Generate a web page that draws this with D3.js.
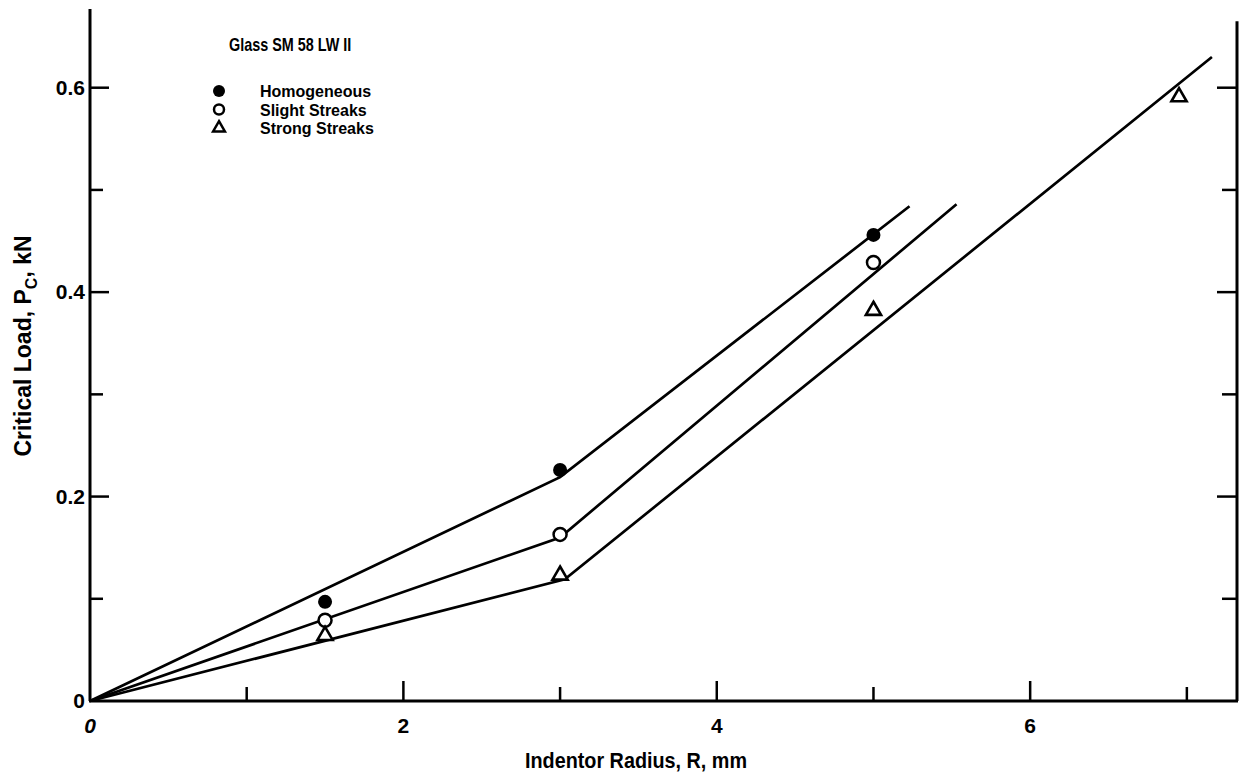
<!DOCTYPE html>
<html>
<head>
<meta charset="utf-8">
<script src="https://cdn.jsdelivr.net/npm/d3@7/dist/d3.min.js"></script>
<style>
  body { margin: 0; background: #fff; }
  text { font-family: "Liberation Sans", Arial, sans-serif; font-weight: bold; fill: #000; }
</style>
</head>
<body>
<div id="chart"></div>
<script>
// measured points, x = indentor radius (mm), y = critical load (kN)
var homX = [1.5, 3.0, 5.0];
var homY = [0.097, 0.226, 0.456];
var slightX = [1.5, 3.0, 5.0];
var slightY = [0.079, 0.163, 0.429];
var strongX = [1.5, 3.0, 5.0, 6.95];
var strongY = [0.064, 0.123, 0.382, 0.591];

// hand drawn fit lines (vertices)
var homLineX = [0, 3.0, 5.23];
var homLineY = [0, 0.219, 0.484];
var slightLineX = [0, 3.0, 5.53];
var slightLineY = [0, 0.160, 0.486];
var strongLineX = [0, 3.03, 7.16];
var strongLineY = [0, 0.119, 0.630];

var xTicks = [0, 1, 2, 3, 4, 5, 6, 7];
var xTickLabels = ["0", "", "2", "", "4", "", "6", ""];
var yTicks = [0, 0.1, 0.2, 0.3, 0.4, 0.5, 0.6];
var yTickLabels = ["0", "", "0.2", "", "0.4", "", "0.6"];

var legendNames = ["Homogeneous", "Slight Streaks", "Strong Streaks"];
var title = "Glass SM 58 LW II";

function zip(xs, ys) {
  var out = [];
  for (var i = 0; i < xs.length; i++) out.push({x: xs[i], y: ys[i]});
  return out;
}

var width = 1248, height = 777;

var svg = d3.select("#chart").append("svg")
    .attr("width", width)
    .attr("height", height);

// set the ranges
var x = d3.scaleLinear().domain([0, 7.32]).range([90, 1237]);
var y = d3.scaleLinear().domain([0, 0.677]).range([701, 9]);

var line = d3.line()
    .x(function(d) { return x(d.x); })
    .y(function(d) { return y(d.y); });

// axes frame: left, bottom, right (no top)
svg.append("line")
    .attr("x1", x(0)).attr("x2", x(0))
    .attr("y1", y(0)).attr("y2", y(0.677))
    .style("stroke", "#000").style("stroke-width", 3);
svg.append("line")
    .attr("x1", x(0) - 1).attr("x2", x(7.32) + 1)
    .attr("y1", y(0)).attr("y2", y(0))
    .style("stroke", "#000").style("stroke-width", 3);
svg.append("line")
    .attr("x1", x(7.32)).attr("x2", x(7.32))
    .attr("y1", y(0)).attr("y2", y(0.665))
    .style("stroke", "#000").style("stroke-width", 3);

// ticks, pointing inward
svg.selectAll(".xtick").data(xTicks.slice(1)).enter().append("line")
    .attr("class", "xtick")
    .attr("x1", function(d) { return x(d); })
    .attr("x2", function(d) { return x(d); })
    .attr("y1", y(0))
    .attr("y2", function(d, i) { return y(0) - (d % 2 == 0 ? 20 : 14); })
    .style("stroke", "#000").style("stroke-width", 2.5);

svg.selectAll(".ytickl").data(yTicks.slice(1)).enter().append("line")
    .attr("class", "ytickl")
    .attr("x1", x(0))
    .attr("x2", function(d, i) { return x(0) + (i % 2 == 1 ? 19 : 13); })
    .attr("y1", function(d) { return y(d); })
    .attr("y2", function(d) { return y(d); })
    .style("stroke", "#000").style("stroke-width", 2.5);

svg.selectAll(".ytickr").data(yTicks.slice(1)).enter().append("line")
    .attr("class", "ytickr")
    .attr("x1", x(7.32))
    .attr("x2", function(d, i) { return x(7.32) - (i % 2 == 1 ? 20 : 15); })
    .attr("y1", function(d) { return y(d); })
    .attr("y2", function(d) { return y(d); })
    .style("stroke", "#000").style("stroke-width", 2.5);

// tick labels
svg.selectAll(".xlab").data(xTicks).enter().append("text")
    .attr("class", "xlab")
    .attr("x", function(d) { return x(d); })
    .attr("y", 733)
    .attr("text-anchor", "middle")
    .style("font-size", "21px")
    .style("font-style", function(d) { return d == 0 ? "italic" : "normal"; })
    .text(function(d, i) { return xTickLabels[i]; });

svg.selectAll(".ylab").data(yTicks).enter().append("text")
    .attr("class", "ylab")
    .attr("x", 85)
    .attr("y", function(d) { return y(d) + 7; })
    .attr("text-anchor", "end")
    .style("font-size", "21px")
    .text(function(d, i) { return yTickLabels[i]; });

// axis titles
svg.append("text")
    .attr("transform", "translate(636,768) scale(0.9,1)")
    .attr("text-anchor", "middle")
    .style("font-size", "22px")
    .text("Indentor Radius, R, mm");

var yt = svg.append("text")
    .attr("transform", "translate(31,346) rotate(-90)")
    .attr("text-anchor", "middle")
    .style("font-size", "23px");
yt.append("tspan").text("Critical Load, P");
yt.append("tspan").attr("dy", 6).style("font-size", "16px").text("C");
yt.append("tspan").attr("dy", -6).text(", kN");

// fit lines
[zip(homLineX, homLineY), zip(slightLineX, slightLineY), zip(strongLineX, strongLineY)].forEach(function(pts) {
  svg.append("path")
      .data([pts])
      .style("stroke", "#000")
      .style("stroke-width", 2.7)
      .style("fill", "none")
      .attr("d", line);
});

var tri = d3.symbol().type(d3.symbolTriangle).size(100);

// points
svg.selectAll(".hom").data(zip(homX, homY)).enter().append("circle")
    .attr("class", "hom")
    .attr("cx", function(d) { return x(d.x); })
    .attr("cy", function(d) { return y(d.y); })
    .attr("r", 7)
    .style("fill", "#000");

svg.selectAll(".slight").data(zip(slightX, slightY)).enter().append("circle")
    .attr("class", "slight")
    .attr("cx", function(d) { return x(d.x); })
    .attr("cy", function(d) { return y(d.y); })
    .attr("r", 6.5)
    .style("fill", "#fff")
    .style("stroke", "#000")
    .style("stroke-width", 2.5);

svg.selectAll(".strong").data(zip(strongX, strongY)).enter().append("path")
    .attr("class", "strong")
    .attr("transform", function(d) { return "translate(" + x(d.x) + "," + y(d.y) + ")"; })
    .attr("d", tri)
    .style("fill", "#fff")
    .style("stroke", "#000")
    .style("stroke-width", 2.6);

// title + legend
svg.append("text")
    .attr("transform", "translate(229,51) scale(0.8,1)")
    .style("font-size", "18px")
    .text(title);

var legY = [91, 109.5, 128];
svg.append("circle").attr("cx", 219).attr("cy", legY[0]).attr("r", 6).style("fill", "#000");
svg.append("circle").attr("cx", 219).attr("cy", legY[1]).attr("r", 5)
    .style("fill", "#fff").style("stroke", "#000").style("stroke-width", 2.5);
svg.append("path").attr("transform", "translate(219," + legY[2] + ")")
    .attr("d", d3.symbol().type(d3.symbolTriangle).size(60))
    .style("fill", "#fff").style("stroke", "#000").style("stroke-width", 2.5);

svg.selectAll(".leg").data(legendNames).enter().append("text")
    .attr("class", "leg")
    .attr("x", 260)
    .attr("y", function(d, i) { return legY[i] + 6; })
    .style("font-size", "16px")
    .text(function(d) { return d; });
</script>
</body>
</html>
